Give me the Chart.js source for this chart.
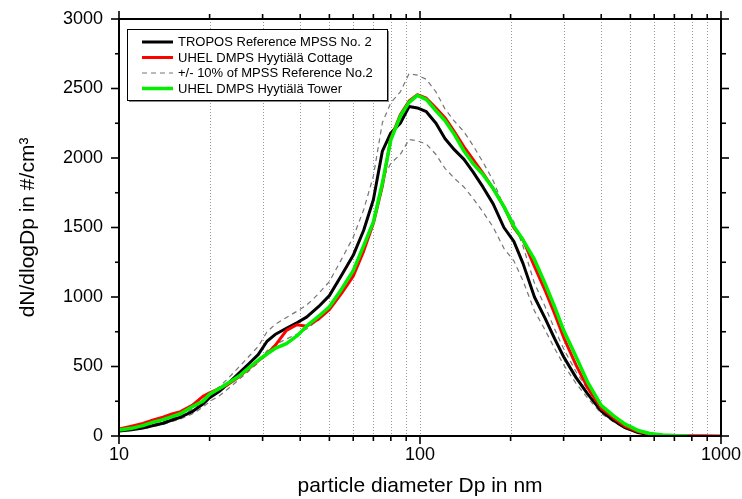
<!DOCTYPE html>
<html>
<head>
<meta charset="utf-8">
<script src="https://cdn.jsdelivr.net/npm/chart.js@4.4.1/dist/chart.umd.min.js"></script>
<style>
  body { margin: 0; background: #fff; }
  #wrap { width: 742px; height: 499px; }
</style>
</head>
<body>
<div id="wrap"><canvas id="canvas"></canvas></div>
<script>
// particle diameters (nm)
var diameters = [10, 11, 12, 13, 14, 15, 16, 17.5, 19, 20,
                 21.5, 23, 25, 27, 29, 31, 33, 36, 39, 42,
                 46, 50, 55, 60, 65, 70, 75, 80, 86, 92,
                 98, 105, 113, 121, 130, 140, 150, 162, 175, 190,
                 205, 220, 240, 260, 280, 300, 330, 360, 400, 440,
                 480, 530, 580, 640, 700, 780, 870, 1000];

var troposRef = [36, 45, 58, 75, 92, 115, 135, 175, 230, 275,
                 320, 375, 450, 520, 585, 680, 730, 775, 815, 855,
                 930, 1010, 1160, 1300, 1480, 1700, 2050, 2180, 2250, 2370,
                 2360, 2333, 2250, 2140, 2060, 1990, 1900, 1790, 1670, 1500,
                 1400, 1240, 1000, 850, 700, 570, 420, 305, 180, 112,
                 60, 25, 8, 3, 1, null, null, null];

var refUpper = [40, 50, 64, 83, 101, 127, 149, 193, 253, 303,
                352, 413, 495, 572, 644, 748, 803, 853, 897, 941,
                1023, 1111, 1276, 1430, 1628, 1870, 2255, 2398, 2475, 2607,
                2596, 2566, 2475, 2354, 2266, 2189, 2090, 1969, 1837, 1650,
                1540, 1364, 1100, 935, 770, 627, 462, 336, 198, 123,
                66, 28, 9, 3, 1, null, null, null];

var refLower = [32, 41, 52, 68, 83, 104, 122, 158, 207, 248,
                288, 338, 405, 468, 527, 612, 657, 698, 734, 770,
                837, 909, 1044, 1170, 1332, 1530, 1845, 1962, 2025, 2133,
                2124, 2100, 2025, 1926, 1854, 1791, 1710, 1611, 1503, 1350,
                1260, 1116, 900, 765, 630, 513, 378, 275, 162, 101,
                54, 23, 7, 3, 1, null, null, null];

var cottage = [50, 70, 90, 115, 135, 158, 175, 220, 285, 310,
               340, 370, 425, 485, 540, 590, 650, 760, 800, 790,
               840, 910, 1030, 1150, 1330, 1530, 1800, 2140, 2310, 2410,
               2455, 2430, 2360, 2290, 2190, 2080, 1990, 1890, 1780, 1650,
               1500, 1410, 1220, 1050, 880, 710, 510, 350, 200, 130,
               70, 32, 13, 6, 3, 2, 1, 0];

var tower = [43, 55, 75, 100, 118, 140, 160, 210, 250, 300,
             340, 380, 430, 490, 545, 590, 630, 665, 720, 790,
             860, 930, 1060, 1190, 1370, 1540, 1820, 2130, 2300, 2400,
             2450, 2420, 2340, 2270, 2170, 2050, 1960, 1880, 1780, 1650,
             1510, 1410, 1270, 1100, 930, 760, 570, 390, 220, 145,
             85, 40, 18, 8, 4, 2, null, null];

var xTickLabels = [10, 100, 1000];
var xMinorTicks = [20, 30, 40, 50, 60, 70, 80, 90, 200, 300, 400, 500, 600, 700, 800, 900];
var yTickLabels = [0, 500, 1000, 1500, 2000, 2500, 3000];
var yMinorTicks = [250, 750, 1250, 1750, 2250, 2750];

var FONT = "Arial, 'Liberation Sans', sans-serif";

function pts(arr) {
  return diameters.map(function (d, i) { return { x: d, y: arr[i] }; });
}

function seg(ctx, x1, y1, x2, y2) {
  ctx.beginPath(); ctx.moveTo(x1, y1); ctx.lineTo(x2, y2); ctx.stroke();
}

// axes frame, outward ticks, dotted verticals, legend box
var framePlugin = {
  id: 'frame',
  beforeDatasetsDraw: function (chart) {
    var ctx = chart.ctx, a = chart.chartArea, xs = chart.scales.x;
    ctx.save();
    ctx.strokeStyle = '#999';
    ctx.lineWidth = 1;
    ctx.setLineDash([1, 2]);
    xMinorTicks.concat([100]).forEach(function (v) {
      var px = Math.round(xs.getPixelForValue(v)) + 0.5;
      seg(ctx, px, a.top, px, a.bottom);
    });
    ctx.restore();
  },
  afterDatasetsDraw: function (chart) {
    var ctx = chart.ctx, a = chart.chartArea, xs = chart.scales.x, ys = chart.scales.y;
    ctx.save();
    ctx.strokeStyle = '#000';
    ctx.lineWidth = 2;
    ctx.strokeRect(a.left, a.top, a.right - a.left, a.bottom - a.top);

    ctx.lineWidth = 1.6;
    yTickLabels.forEach(function (v) {
      var py = ys.getPixelForValue(v);
      seg(ctx, a.left - 8, py, a.left, py);
      seg(ctx, a.right, py, a.right + 8, py);
    });
    yMinorTicks.forEach(function (v) {
      var py = ys.getPixelForValue(v);
      seg(ctx, a.left - 4, py, a.left, py);
      seg(ctx, a.right, py, a.right + 5, py);
    });
    xTickLabels.forEach(function (v) {
      var px = xs.getPixelForValue(v);
      seg(ctx, px, a.bottom, px, a.bottom + 8);
      seg(ctx, px, a.top - 8, px, a.top);
    });
    xMinorTicks.forEach(function (v) {
      var px = xs.getPixelForValue(v);
      seg(ctx, px, a.bottom, px, a.bottom + 5);
      seg(ctx, px, a.top - 5, px, a.top);
    });

    // legend (the unlabelled lower band is left out)
    var bx = 127, by = 29, bw = 260, bh = 71;
    ctx.fillStyle = '#888';
    ctx.fillRect(bx + 2, by + 2, bw, bh);
    ctx.fillStyle = '#fff';
    ctx.fillRect(bx, by, bw, bh);
    ctx.lineWidth = 1;
    ctx.strokeStyle = '#000';
    ctx.strokeRect(bx + 0.5, by + 0.5, bw, bh);
    ctx.font = '13px ' + FONT;
    ctx.textBaseline = 'middle';
    ctx.textAlign = 'left';
    var shown = chart.data.datasets.filter(function (d) { return d.label !== ''; });
    shown.forEach(function (ds, i) {
      var ry = by + 13 + i * 15.5;
      ctx.strokeStyle = ds.borderColor;
      ctx.lineWidth = ds.borderWidth;
      ctx.setLineDash(ds.borderDash || []);
      seg(ctx, 142, ry, 173, ry);
      ctx.setLineDash([]);
      ctx.fillStyle = '#000';
      ctx.fillText(ds.label, 178, ry + 0.5);
    });
    ctx.restore();
  }
};

var config = {
  type: 'line',
  data: {
    datasets: [
      { label: 'TROPOS Reference MPSS No. 2', data: pts(troposRef),
        borderColor: '#000000', borderWidth: 3, order: 2 },
      { label: 'UHEL DMPS Hyytiälä Cottage', data: pts(cottage),
        borderColor: '#ff0000', borderWidth: 3, order: 1 },
      { label: '+/- 10% of MPSS Reference No.2', data: pts(refUpper),
        borderColor: '#777777', borderWidth: 1.2, borderDash: [5, 4], order: 3 },
      { label: '', data: pts(refLower),
        borderColor: '#777777', borderWidth: 1.2, borderDash: [5, 4], order: 3 },
      { label: 'UHEL DMPS Hyytiälä Tower', data: pts(tower),
        borderColor: '#00f000', borderWidth: 3.5, order: 0 }
    ]
  },
  options: {
    responsive: true,
    maintainAspectRatio: false,
    animation: false,
    events: [],
    elements: { point: { radius: 0 }, line: { tension: 0, borderJoinStyle: 'round' } },
    layout: { padding: { left: 0, top: 19, right: 21, bottom: 0 } },
    plugins: { legend: { display: false }, tooltip: { enabled: false } },
    scales: {
      x: {
        type: 'logarithmic', min: 10, max: 1000,
        grid: { display: false, drawTicks: false },
        border: { display: false },
        afterBuildTicks: function (s) {
          s.ticks = xTickLabels.map(function (v) { return { value: v }; });
        },
        afterFit: function (s) { s.height = 63; s.paddingLeft = 0; s.paddingRight = 0; },
        ticks: {
          color: '#000', font: { family: FONT, size: 18 }, padding: 8,
          maxRotation: 0, autoSkip: false,
          callback: function (v) { return String(v); }
        },
        title: { display: true, text: 'particle diameter Dp in nm', color: '#000',
                 font: { family: FONT, size: 21 }, padding: { top: 0, bottom: 0 } }
      },
      y: {
        min: 0, max: 3000,
        grid: { display: false, drawTicks: false },
        border: { display: false },
        afterBuildTicks: function (s) {
          s.ticks = yTickLabels.map(function (v) { return { value: v }; });
        },
        afterFit: function (s) { s.width = 119; s.paddingTop = 0; s.paddingBottom = 0; },
        ticks: {
          color: '#000', font: { family: FONT, size: 18 }, padding: 16,
          callback: function (v) { return String(v); }
        },
        title: { display: true, text: 'dN/dlogDp in #/cm\u00b3', color: '#000',
                 font: { family: FONT, size: 21 }, padding: { top: 16, bottom: 0 } }
      }
    }
  },
  plugins: [framePlugin]
};

var ctx = document.getElementById('canvas').getContext('2d');
window.myLine = new Chart(ctx, config);
</script>
</body>
</html>
